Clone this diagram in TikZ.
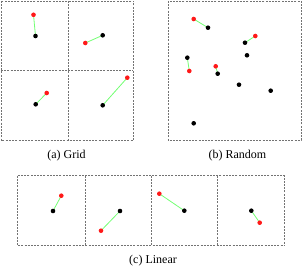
\documentclass[tikz,border=0pt]{standalone}
\usepackage{fontspec}
\setmainfont{Liberation Serif}
\usetikzlibrary{backgrounds}
\begin{document}
\begin{tikzpicture}[x=1pt,y=-1pt,
  box/.style={draw=black!55,line width=0.7pt,dash pattern=on 2pt off 1.2pt},
  bdot/.style={circle,fill=black,inner sep=0pt,minimum size=4.6pt},
  rdot/.style={circle,fill=red!90!white,inner sep=0pt,minimum size=4.6pt},
  link/.style={draw=green!55!white,line width=0.8pt},
  captext/.style={font=\fontsize{12}{14}\selectfont,inner sep=0pt}]
\useasboundingbox (0,0) rectangle (302,267);
% Grid
\draw[box] (1,1) rectangle (133.3,140.3);
\draw[box] (68.3,1) -- (68.3,140.3);
\draw[box] (1,70.7) -- (133.3,70.7);
% Random
\draw[box] (168.3,1) rectangle (301,140.3);
% Linear
\draw[box] (17.7,175.7) rectangle (284.7,245.7);
\draw[box] (85.7,175.7) -- (85.7,245.7);
\draw[box] (151,175.7) -- (151,245.7);
\draw[box] (217.7,175.7) -- (217.7,245.7);
% grid dots
\node[rdot] (g1r) at (33.5,14.8) {};
\node[bdot] (g1b) at (35.5,36) {};
\node[rdot] (g2r) at (85.3,43) {};
\node[bdot] (g2b) at (102.7,35.3) {};
\node[rdot] (g3r) at (46.7,93) {};
\node[bdot] (g3b) at (35.7,104.3) {};
\node[rdot] (g4r) at (127.3,77.7) {};
\node[bdot] (g4b) at (102.7,105.3) {};
% random dots
\node[rdot] (r1r) at (193.7,19) {};
\node[bdot] (r1b) at (208,27.7) {};
\node[rdot] (r2r) at (255.3,36) {};
\node[bdot] (r2b) at (245,42.7) {};
\node[bdot] (r3b) at (247,55.3) {};
\node[bdot] (r4b) at (187.3,57.7) {};
\node[rdot] (r4r) at (189.3,71) {};
\node[rdot] (r5r) at (215.7,66.3) {};
\node[bdot] (r5b) at (217.7,73.7) {};
\node[bdot] (r6b) at (239,84.7) {};
\node[bdot] (r7b) at (270.7,90.7) {};
\node[bdot] (r8b) at (193.7,123.3) {};
% linear dots
\node[rdot] (l1r) at (61.3,195.7) {};
\node[bdot] (l1b) at (53,211) {};
\node[rdot] (l2r) at (101,230.7) {};
\node[bdot] (l2b) at (120,211) {};
\node[rdot] (l3r) at (159.3,193.7) {};
\node[bdot] (l3b) at (184.3,210.7) {};
\node[bdot] (l4b) at (251.3,210.7) {};
\node[rdot] (l4r) at (259.7,222.7) {};
% links
\begin{pgfonlayer}{background}
\foreach \a/\b in {g1r/g1b,g2r/g2b,g3r/g3b,g4r/g4b,r1r/r1b,r2r/r2b,r4r/r4b,r5r/r5b,l1r/l1b,l2r/l2b,l3r/l3b,l4r/l4b}
  \draw[link] (\a.center) -- (\b.center);
\end{pgfonlayer}
% captions
\node[captext] (ca) at (66.5,155.5) {(a) Grid};
\node[captext] (cb) at (237.4,155.5) {(b) Random};
\node[captext] (cc) at (153,260.5) {(c) Linear};
\end{tikzpicture}
\end{document}
